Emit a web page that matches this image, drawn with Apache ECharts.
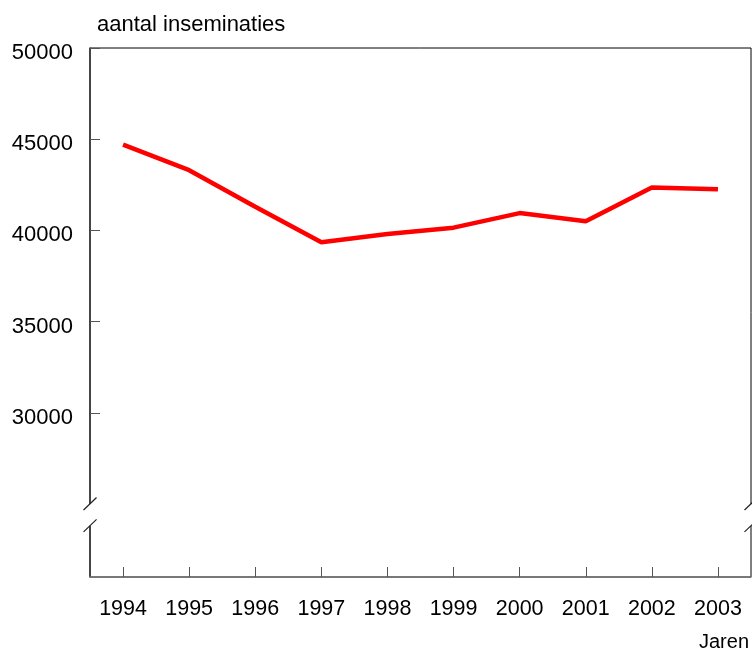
<!DOCTYPE html>
<html>
<head>
<meta charset="utf-8">
<script src="https://cdn.jsdelivr.net/npm/echarts@6/dist/echarts.min.js"></script>
<style>
  html, body { margin: 0; padding: 0; background: #fff; }
  #chart { width: 752px; height: 650px; }
</style>
</head>
<body>
<div id="chart"></div>
<script>
const years = ['1994', '1995', '1996', '1997', '1998', '1999', '2000', '2001', '2002', '2003']
const inseminaties = [44700, 43300, 41300, 39350, 39800, 40150, 40950, 40500, 42350, 42250]
const yTicks = [30000, 35000, 40000, 45000, 50000]
// axis break between these two values
const breakTop = 25000
const breakBottom = 23800

const font = 'Liberation Sans, Arial, sans-serif'
const myChart = echarts.init(document.getElementById('chart'))

const option = {
  animation: false,
  backgroundColor: '#fff',
  grid: {
    left: 90,
    right: 1,
    top: 48,
    bottom: 73,
    show: true,
    borderColor: '#000',
    borderWidth: 1,
  },
  xAxis: {
    type: 'category',
    data: years,
    boundaryGap: true,
    axisLine: { lineStyle: { color: '#777', width: 1.5 } },
    axisTick: { show: true, inside: true, length: 10, alignWithLabel: true, lineStyle: { color: '#555', width: 1 } },
    axisLabel: { color: '#000', fontSize: 21.5, fontFamily: font, margin: 21 },
  },
  yAxis: {
    type: 'value',
    min: 21000,
    max: 50000,
    splitLine: { show: false },
    name: 'aantal inseminaties',
    nameLocation: 'end',
    nameGap: 12,
    nameTextStyle: { color: '#000', fontSize: 22, fontFamily: font, align: 'left', padding: [0, 0, 0, 7] },
    axisLine: { show: true, lineStyle: { color: '#333', width: 1.5 } },
    axisTick: { show: true, inside: true, length: 10, customValues: yTicks, lineStyle: { color: '#555', width: 1 } },
    axisLabel: {
      customValues: yTicks,
      formatter: (v) => '{a|' + v + '}',
      margin: 17,
      rich: {
        a: { color: '#000', fontSize: 22, fontFamily: font, padding: [10, 0, 0, 0] },
      },
    },
  },
  series: [
    {
      name: 'aantal inseminaties',
      type: 'line',
      data: inseminaties,
      symbol: 'none',
      lineStyle: { color: '#ff0000', width: 4.5 },
    },
  ],
}

myChart.setOption(option)

// axis break marks, placed through the y axis scale
const yA = myChart.convertToPixel({ yAxisIndex: 0 }, breakTop)
const yB = myChart.convertToPixel({ yAxisIndex: 0 }, breakBottom)
const xL = myChart.convertToPixel({ xAxisIndex: 0 }, 0) - 33
const xR = 751
const breakMarks = []
;[xL, xR].forEach((x) => {
  breakMarks.push({
    type: 'rect', z: 100,
    shape: { x: x - 4, y: yA, width: 8, height: yB - yA },
    style: { fill: '#fff' },
  })
  ;[yA, yB].forEach((y) => {
    breakMarks.push({
      type: 'line', z: 101,
      shape: { x1: x - 6.5, y1: y + 6, x2: x + 6.5, y2: y - 6.5 },
      style: { stroke: '#222', lineWidth: 1.2 },
    })
  })
})
breakMarks.push({
  type: 'text', z: 101,
  right: 3, top: 632,
  style: { text: 'Jaren', fill: '#000', font: '20px ' + font },
})
myChart.setOption({ graphic: breakMarks })
</script>
</body>
</html>
